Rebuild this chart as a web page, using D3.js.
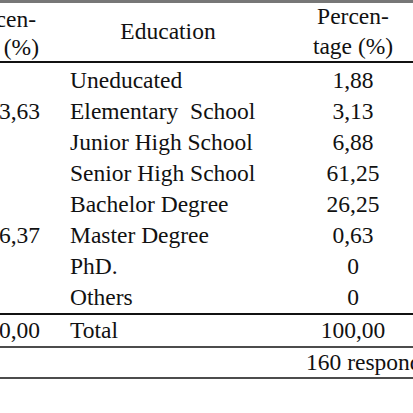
<!DOCTYPE html>
<html><head><meta charset="utf-8">
<script src="https://cdn.jsdelivr.net/npm/d3@7"></script>
<style>body{margin:0;background:#fff}svg{display:block}</style>
</head><body>
<script>
const education = ["Uneducated","Elementary  School","Junior High School","Senior High School","Bachelor Degree","Master Degree","PhD.","Others"];
const eduPct = ["1,88","3,13","6,88","61,25","26,25","0,63","0","0"];
const genderPct = ["","63,63","","","","36,37","",""];
const totalRow = ["100,00","Total","100,00"];
const note = "160 respondents";

const W=413,H=413;
const svg=d3.select("body").append("svg").attr("width",W).attr("height",H);
const y=d3.scaleBand().domain(d3.range(education.length)).range([64,312]);
const f="'Liberation Serif', 'Times New Roman', serif";
const txt=(x,yy,t,a)=>svg.append("text").attr("x",x).attr("y",yy).attr("text-anchor",a||"start")
  .attr("xml:space","preserve").style("font-family",f).style("font-size","23.5px").attr("fill","#111").text(t);
const line=(yy,w,c)=>svg.append("line").attr("x1",0).attr("x2",W).attr("y1",yy).attr("y2",yy).attr("stroke",c||"#111").attr("stroke-width",w);

line(1.5,3,"#777");
txt(36,27,"Percen-","end"); txt(39,55,"tage (%)","end");
txt(168,39,"Education","middle");
txt(353,24,"Percen-","middle"); txt(353,54,"tage (%)","middle");
line(62,2);
education.forEach((e,i)=>{
  const yy=y(i)+y.bandwidth()/2+8;
  txt(70,yy,e);
  txt(353,yy,eduPct[i],"middle");
  if(genderPct[i]) txt(40,yy,genderPct[i],"end");
});
line(314,2);
txt(40,338,totalRow[0],"end"); txt(70,338,totalRow[1]); txt(353,338,totalRow[2],"middle");
line(347,1.5);
txt(306,370,note);
line(378,1.5);
</script>
</body></html>
